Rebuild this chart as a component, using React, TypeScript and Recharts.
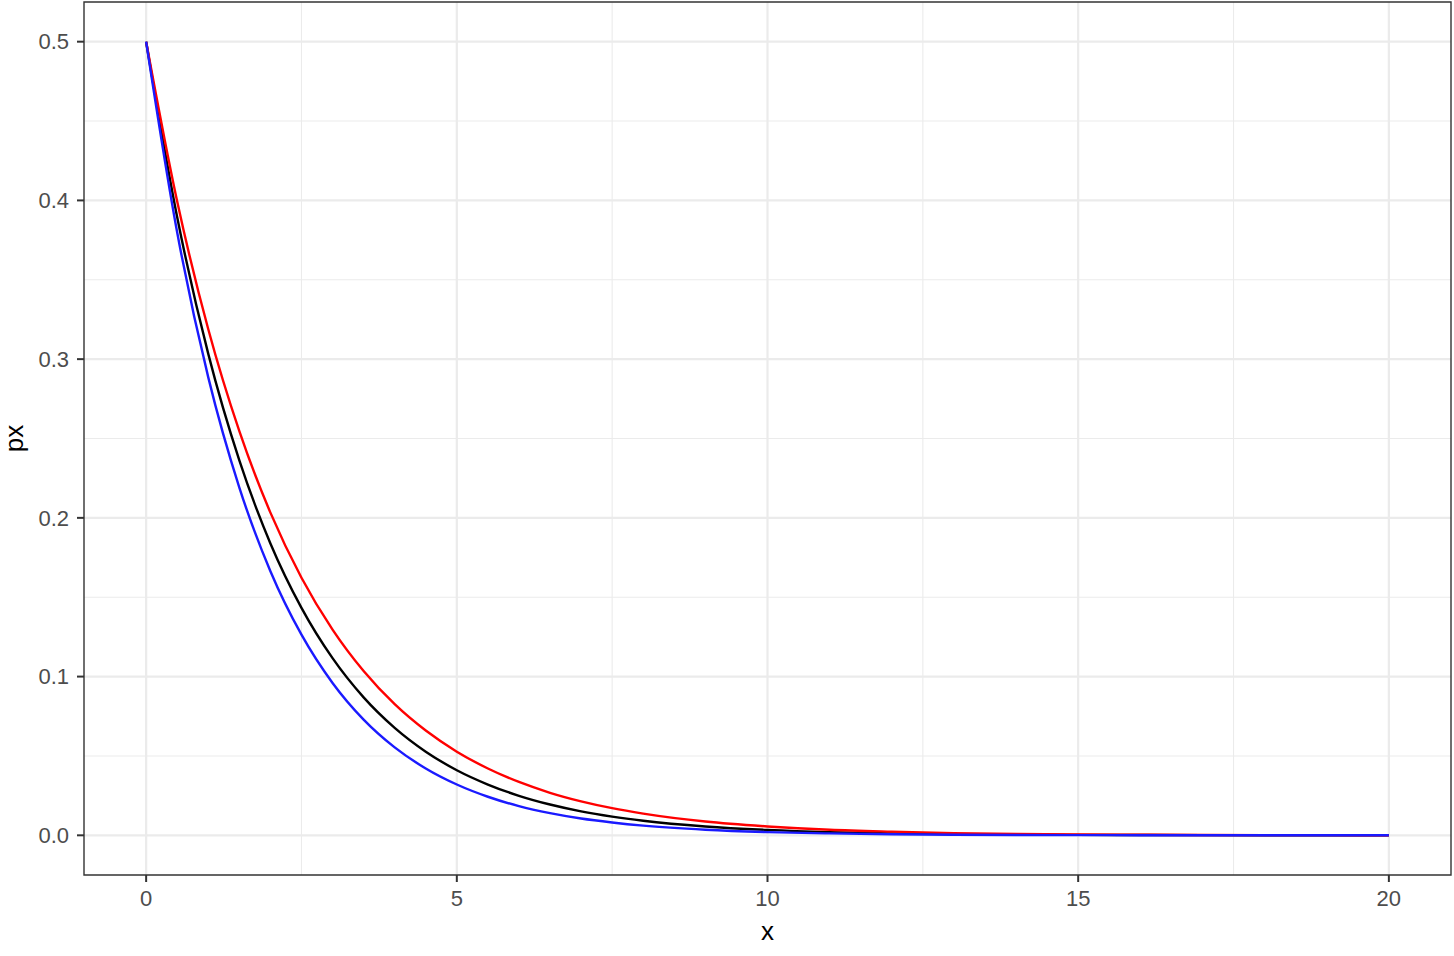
import { LineChart, Line, XAxis, YAxis, CartesianGrid, ReferenceArea } from 'recharts'

const xs = [0, 0.5, 1, 1.5, 2, 2.5, 3, 3.5, 4, 4.5, 5, 5.5, 6, 6.5, 7, 7.5, 8, 9, 10, 11, 12, 13, 14, 15, 16, 17, 18, 19, 20]

const blackPx = [0.5, 0.3894, 0.3033, 0.2362, 0.1839, 0.1433, 0.1116, 0.0869, 0.0677, 0.0527, 0.041, 0.032, 0.0249, 0.0194, 0.0151, 0.0118, 0.0092, 0.0056, 0.0034, 0.002, 0.0012, 0.00075, 0.00046, 0.00028, 0.00017, 0.0001, 0.00006, 0.00004, 0.00002]
const redPx = [0.5, 0.3993, 0.3188, 0.2546, 0.2033, 0.1623, 0.1296, 0.1035, 0.0826, 0.066, 0.0527, 0.0421, 0.0336, 0.0268, 0.0214, 0.0171, 0.0137, 0.0087, 0.0056, 0.0035, 0.0023, 0.0014, 0.0009, 0.0006, 0.0004, 0.00024, 0.00015, 0.0001, 0.00006]
const bluePx = [0.5, 0.3798, 0.2885, 0.2191, 0.1664, 0.1264, 0.096, 0.0729, 0.0554, 0.0421, 0.032, 0.0243, 0.0184, 0.014, 0.0106, 0.0081, 0.0061, 0.0035, 0.002, 0.0012, 0.0007, 0.0004, 0.0002, 0.00013, 0.00008, 0.00005, 0.00003, 0.00002, 0.00001]

const xTicks = [0, 5, 10, 15, 20]
const xMinor = [2.5, 7.5, 12.5, 17.5]
const yTicks = [0, 0.1, 0.2, 0.3, 0.4, 0.5]
const yMinor = [0.05, 0.15, 0.25, 0.35, 0.45]

const data = xs.map((x, i) => ({ x, black: blackPx[i], red: redPx[i], blue: bluePx[i] }))

const font = '"Liberation Sans", Arial, Helvetica, sans-serif'
const tickStyle = { fill: '#4D4D4D', fontSize: 22, fontFamily: font }

export default function App() {
  return (
    <div style={{ position: 'absolute', left: 0, top: 0, width: 1454, height: 956, background: '#fff' }}>
      <LineChart width={1454} height={956} data={data} margin={{ top: 2, right: 3, left: 0, bottom: 0 }}>
        <CartesianGrid stroke="#EBEBEB" strokeWidth={1.1} horizontalValues={yMinor} verticalValues={xMinor} />
        <CartesianGrid stroke="#EBEBEB" strokeWidth={2.2} horizontalValues={yTicks} verticalValues={xTicks} />
        <XAxis
          dataKey="x"
          type="number"
          domain={[-1, 21]}
          ticks={xTicks}
          allowDataOverflow
          axisLine={false}
          tickSize={7}
          tickMargin={8}
          tickLine={{ stroke: '#333333', strokeWidth: 2 }}
          tick={tickStyle}
          height={81}
          label={{ value: 'x', position: 'insideBottom', offset: 16, style: { fill: '#000', fontSize: 26, fontFamily: font } }}
        />
        <YAxis
          type="number"
          domain={[-0.025, 0.525]}
          ticks={yTicks}
          allowDataOverflow
          axisLine={false}
          tickSize={7}
          tickMargin={8}
          tickLine={{ stroke: '#333333', strokeWidth: 2 }}
          tick={tickStyle}
          tickFormatter={(v: number) => v.toFixed(1)}
          width={84}
          label={{
            content: ({ viewBox }: any) => {
              const cy = viewBox.y + viewBox.height / 2
              return (
                <text x={23} y={cy} transform={`rotate(-90, 23, ${cy})`} textAnchor="middle" fill="#000" fontSize={26} fontFamily={font}>
                  px
                </text>
              )
            },
          }}
        />
        <Line type="monotone" dataKey="black" stroke="#000000" strokeWidth={2.4} dot={false} isAnimationActive={false} />
        <Line type="monotone" dataKey="red" stroke="#FF0000" strokeWidth={2.4} dot={false} isAnimationActive={false} />
        <Line type="monotone" dataKey="blue" stroke="#1A1AFF" strokeWidth={2.4} dot={false} isAnimationActive={false} />
        <ReferenceArea x1={-1} x2={21} y1={-0.025} y2={0.525} fill="none" stroke="#333333" strokeWidth={1.4} />
      </LineChart>
    </div>
  )
}
